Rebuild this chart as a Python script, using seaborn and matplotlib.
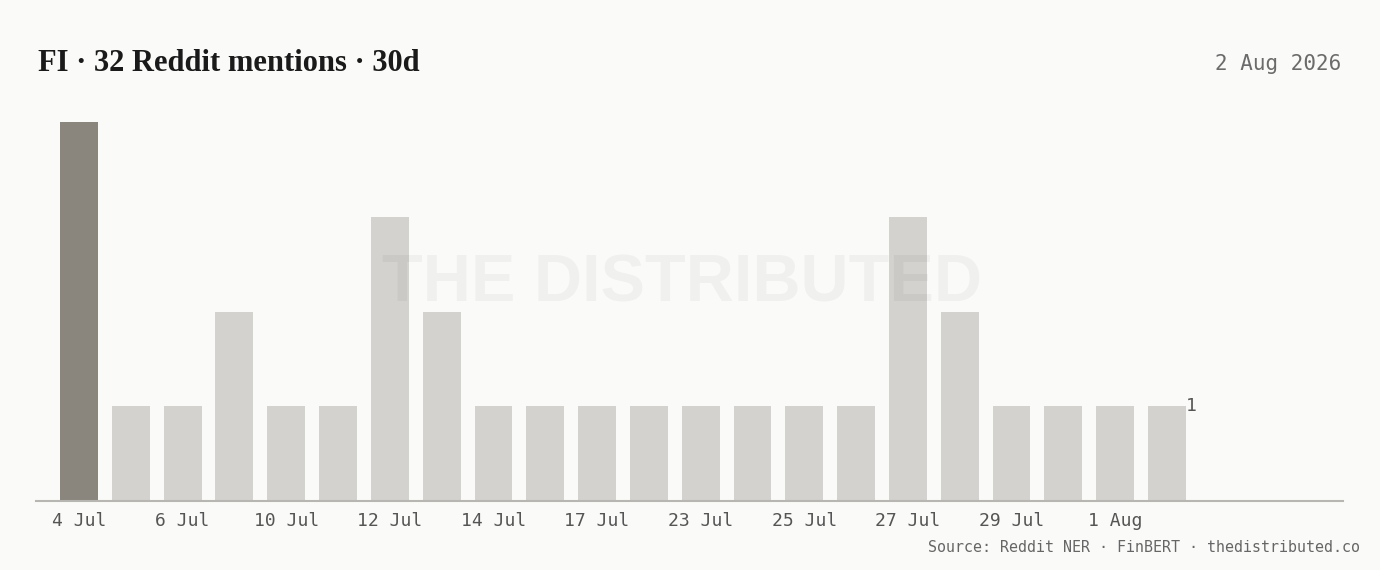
import matplotlib
matplotlib.use("Agg")
import matplotlib.pyplot as plt
import seaborn as sns
import pandas as pd

# ---- data ----
dates = ["4 Jul", "5 Jul", "6 Jul", "8 Jul", "10 Jul", "11 Jul", "12 Jul", "13 Jul",
         "14 Jul", "16 Jul", "17 Jul", "20 Jul", "23 Jul", "24 Jul", "25 Jul", "26 Jul",
         "27 Jul", "28 Jul", "29 Jul", "31 Jul", "1 Aug", "2 Aug"]
mentions = [4, 1, 1, 2, 1, 1, 3, 2, 1, 1, 1, 1, 1, 1, 1, 1, 3, 2, 1, 1, 1, 1]
highlight = [True] + [False] * 21
title = "FI · 32 Reddit mentions · 30d"
date_label = "2 Aug 2026"
source = "Source: Reddit NER · FinBERT · thedistributed.co"
watermark = "THE DISTRIBUTED"

BG = "#fafaf8"
DARK = "#8a857d"
LIGHT = "#d3d2ce"

df = pd.DataFrame({"date": dates, "mentions": mentions})
palette = {d: (DARK if h else LIGHT) for d, h in zip(dates, highlight)}

sns.set_style("white")
plt.rcParams["font.family"] = ["DejaVu Sans"]

W, H = 1380, 570
fig = plt.figure(figsize=(W / 100, H / 100), dpi=100, facecolor=BG)
ax = fig.add_axes([36 / W, 69 / H, (1343 - 36) / W, (501 - 122) / H])
ax.set_facecolor(BG)

sns.barplot(data=df, x="date", y="mentions", hue="date", palette=palette,
            order=dates, width=0.73, legend=False, ax=ax, saturation=1,
            linewidth=0, edgecolor="none")

ax.set_xlim(-0.83, 24.40)
ax.set_ylim(0, 4)
for s in ["top", "right", "left"]:
    ax.spines[s].set_visible(False)
ax.spines["bottom"].set_color("#b8b6b2")
ax.spines["bottom"].set_linewidth(1.5)
ax.set_yticks([])
ax.set_xlabel("")
ax.set_ylabel("")
ticks = list(range(0, len(dates), 2))
ax.set_xticks(ticks)
ax.set_xticklabels([dates[i] for i in ticks], family="DejaVu Sans Mono",
                   fontsize=13, color="#555555")
ax.tick_params(axis="x", length=0, pad=8)

# value label on the last bar
last = len(mentions) - 1
ax.text(last + 0.365 + 0.01, mentions[last], str(mentions[last]),
        family="DejaVu Sans Mono", fontsize=13, color="#555555",
        ha="left", va="center")

# watermark
fig.text(682 / W, 1 - 285 / H, watermark, family="Liberation Sans",
         fontweight="bold", fontsize=48, color="black", alpha=0.04,
         ha="center", va="center", zorder=10)

# title, date, source
fig.text(38 / W, 1 - 71 / H, title, family="Liberation Serif", fontweight="bold",
         fontsize=22, color="#1a1a1a", ha="left", va="baseline")
fig.text(1341 / W, 1 - 70 / H, date_label, family="DejaVu Sans Mono",
         fontsize=15, color="#6b6b6b", ha="right", va="baseline")
fig.text(1360 / W, 1 - 552 / H, source, family="DejaVu Sans Mono",
         fontsize=10.8, color="#666666", ha="right", va="baseline")

fig.savefig("out.png", dpi=100, facecolor=BG)
